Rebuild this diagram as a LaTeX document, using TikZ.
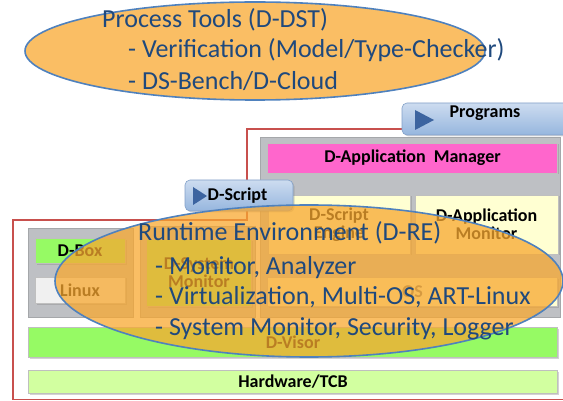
\documentclass[tikz,border=0pt]{standalone}
\usepackage{fontspec}
\setmainfont{Carlito}
\usetikzlibrary{shapes.geometric,shadows}
\definecolor{panelgray}{RGB}{190,192,196}
\definecolor{panelborder}{RGB}{165,167,170}
\definecolor{boxgreen}{RGB}{150,250,100}
\definecolor{hwgreen}{RGB}{210,255,160}
\definecolor{pinkbox}{RGB}{255,102,204}
\definecolor{lightyel}{RGB}{255,255,210}
\definecolor{linuxgray}{RGB}{240,240,240}
\definecolor{tabtop}{RGB}{205,220,240}
\definecolor{tabbot}{RGB}{150,182,222}
\definecolor{tabborder}{RGB}{130,160,200}
\definecolor{tri}{RGB}{60,100,160}
\definecolor{ellfill}{RGB}{248,168,48}
\definecolor{ellline}{RGB}{79,129,189}
\definecolor{elltext}{RGB}{31,73,125}
\definecolor{redline}{RGB}{200,80,77}
\tikzset{
  panel/.style={fill=panelgray, draw=panelborder, line width=0.6pt},
  layerbox/.style={draw=black!25, line width=0.5pt, inner sep=0pt,
     drop shadow={shadow xshift=1.5pt, shadow yshift=-1.5pt, opacity=0.35},
     font=\fontsize{18}{19}\selectfont\bfseries, align=center},
  tabbox/.style={rounded corners=5pt, top color=tabtop, bottom color=tabbot, draw=tabborder, line width=0.6pt,
     drop shadow={shadow xshift=1.5pt, shadow yshift=-1.5pt, opacity=0.3}},
  tablabel/.style={font=\fontsize{18}{19}\selectfont\bfseries, inner sep=0pt},
  bigell/.style={ellipse, draw=ellline, line width=1.6pt, fill=ellfill, fill opacity=0.75, inner sep=0pt},
  elltxt/.style={anchor=base west, text=elltext, inner sep=0pt, font=\fontsize{26}{30}\selectfont}
}
\begin{document}
\begin{tikzpicture}[x=1pt,y=-1pt]
\useasboundingbox (0,0) rectangle (563,401);
\clip (0,0) rectangle (563,401);
% red outline
\draw[redline, line width=1.4pt] (13,399.5) -- (13,220) -- (247,220) -- (247,129) -- (570,129) -- (570,399.5) -- cycle;
% gray panels
\draw[panel] (28,228) rectangle (133,317);
\draw[panel] (140,226) rectangle (255,317);
\draw[panel] (260,137) rectangle (560,317);
% boxes
\node[layerbox, fill=boxgreen, minimum width=90pt, minimum height=25pt] (dbox) at (80,251) {D-Box};
\node[layerbox, fill=linuxgray, minimum width=90pt, minimum height=26pt] (linux) at (80,290) {Linux};
\node[layerbox, fill=boxgreen, minimum width=105pt, minimum height=67pt] (dsysmon) at (199,273) {D-System\\[-1pt]Monitor};
\node[layerbox, fill=pinkbox, minimum width=290pt, minimum height=30pt] (dappmgr) at (412.5,158) {D-Application~~Manager};
\node[layerbox, fill=lightyel, minimum width=142pt, minimum height=59pt] (dsengine) at (339,224.5) {D-Script\\[-1pt]Engine};
\node[layerbox, fill=lightyel, minimum width=143pt, minimum height=59pt] (dappmon) at (486.5,224.5) {D-Application\\[-1pt]Monitor};
\node[layerbox, fill=lightyel, minimum width=290pt, minimum height=29pt, font=\fontsize{18}{19}\selectfont\bfseries\color{black!55}] (osbox) at (412.5,292) {OS};
\node[layerbox, fill=boxgreen, minimum width=529pt, minimum height=30pt] (dvisor) at (293,342) {D-Visor};
\node[layerbox, fill=hwgreen, minimum width=529pt, minimum height=23pt] (hw) at (293,381.5) {Hardware/TCB};
% tabs
\node[tabbox, minimum width=180pt, minimum height=32pt, inner sep=0pt] (progtab) at (492,119) {};
\fill[tri] (415,110) -- (434,120) -- (415,130) -- cycle;
\node[tablabel] (proglabel) at (485,113) {Programs};
\node[tabbox, minimum width=108pt, minimum height=31pt, inner sep=0pt] (dstab) at (239,195.5) {};
\fill[tri] (193,187) -- (207,196) -- (193,205) -- cycle;
\node[tablabel] (dslabel) at (237.5,196) {D-Script};
% runtime ellipse
\node[bigell, minimum width=508pt, minimum height=152pt] (reell) at (309,281) {};
\node[elltxt] (re1) at (138,241) {Runtime Environment (D-RE)};
\node[elltxt] (re2) at (155,275) {- Monitor, Analyzer};
\node[elltxt] (re3) at (155,305) {- Virtualization, Multi-OS, ART-Linux};
\node[elltxt] (re4) at (155,335) {- System Monitor, Security, Logger};
% process tools ellipse
\node[bigell, minimum width=460pt, minimum height=98pt] (ptell) at (255,51) {};
\node[elltxt] (pt1) at (102,28) {Process Tools (D-DST)};
\node[elltxt] (pt2) at (128,58) {- Verification (Model/Type-Checker)};
\node[elltxt] (pt3) at (128,90) {- DS-Bench/D-Cloud};
\end{tikzpicture}
\end{document}
